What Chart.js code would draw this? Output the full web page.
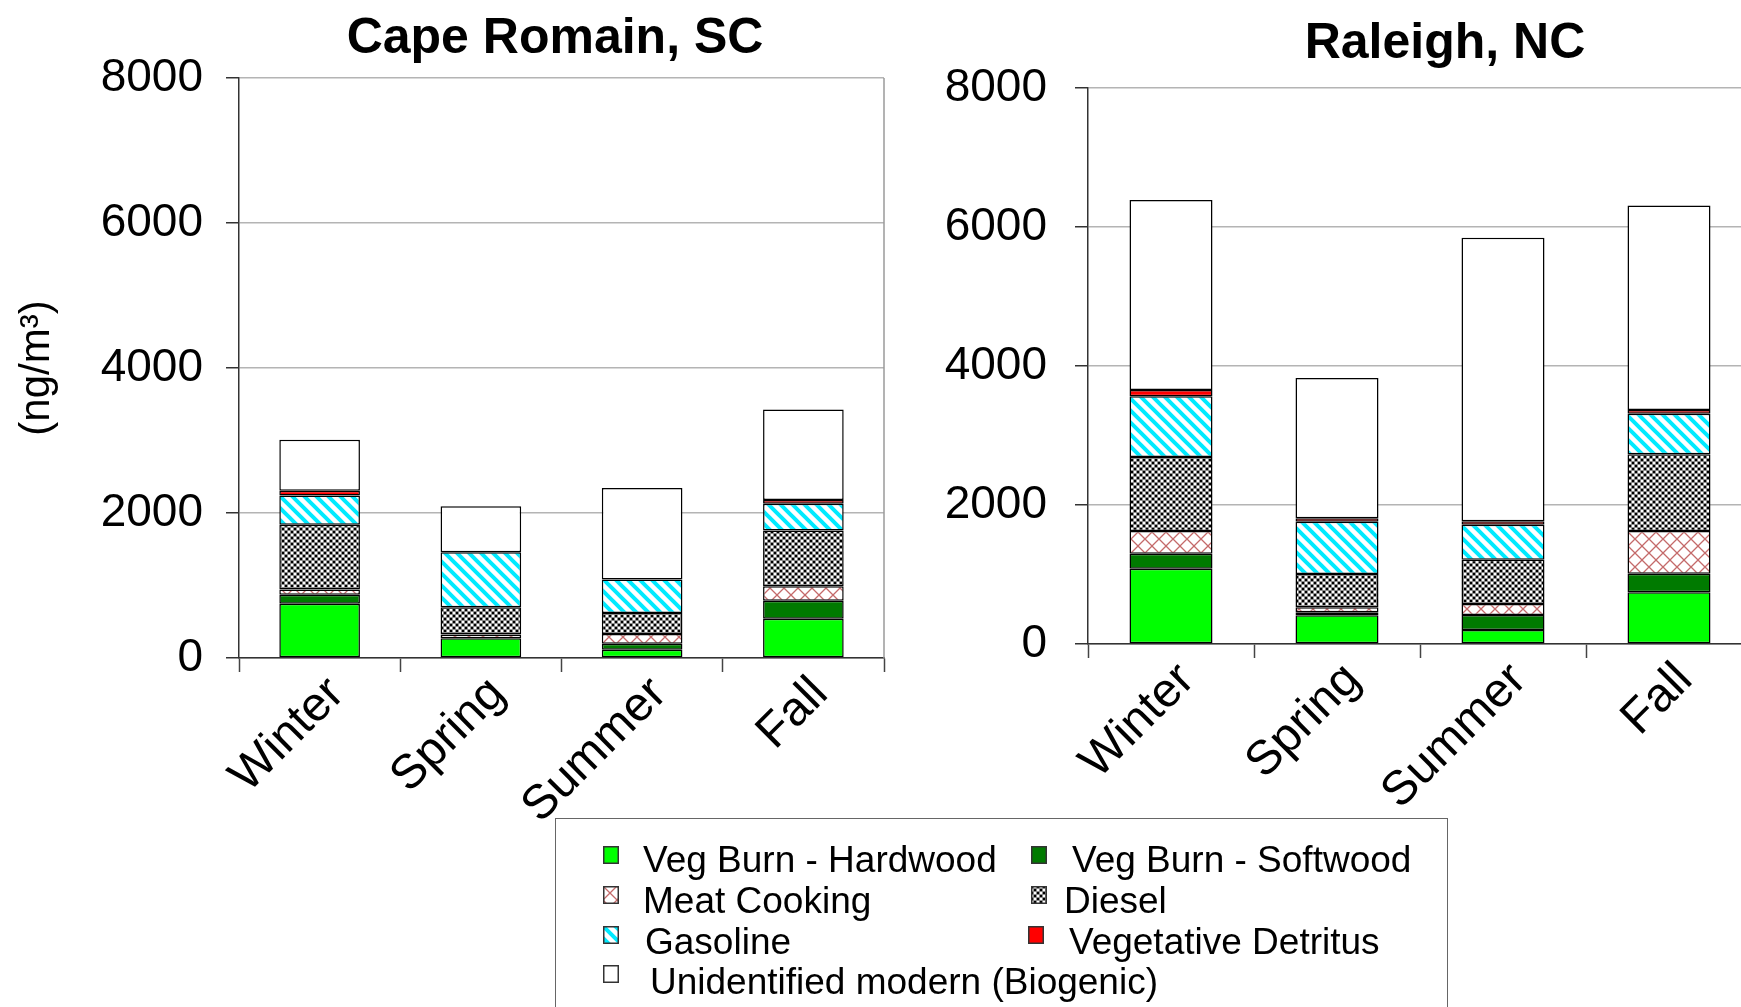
<!DOCTYPE html>
<html>
<head>
<meta charset="utf-8">
<script src="https://cdn.jsdelivr.net/npm/chart.js@4.4.0/dist/chart.umd.min.js"></script>
<style>
  html, body { margin: 0; padding: 0; background: #fff; }
  body { position: relative; width: 1741px; height: 1007px; overflow: hidden; font-family: "Liberation Sans", Arial, sans-serif; color: #000; }
  canvas.chart { position: absolute; top: 0; }
  .title { position: absolute; font-weight: bold; font-size: 50px; line-height: 50px; white-space: nowrap; transform: translateX(-50%); }
  #legend { position: absolute; left: 555px; top: 818px; width: 893px; height: 230px; border: 1.5px solid #666; box-sizing: border-box; }
  .item { position: absolute; font-size: 37px; line-height: 38px; white-space: nowrap; }
  .sw { position: absolute; }
</style>
</head>
<body>
<canvas id="cape" class="chart" width="900" height="900" style="left:0px"></canvas>
<canvas id="raleigh" class="chart" width="860" height="900" style="left:900px"></canvas>
<div class="title" style="left:555px; top:11px">Cape Romain, SC</div>
<div class="title" style="left:1445px; top:16px">Raleigh, NC</div>
<div id="legend"></div>
<script>
var seasons = ['Winter', 'Spring', 'Summer', 'Fall'];
var yTickValues = [0, 2000, 4000, 6000, 8000];
var seriesNames = ['Veg Burn - Hardwood', 'Veg Burn - Softwood', 'Meat Cooking', 'Diesel',
  'Gasoline', 'Vegetative Detritus', 'Unidentified modern (Biogenic)'];

// Cape Romain, SC (ng/m3)
var capeHardwood = [748, 271, 115, 541];
var capeSoftwood = [124, 0, 82, 248];
var capeMeat = [73, 54, 133, 202];
var capeDiesel = [894, 376, 289, 766];
var capeGasoline = [404, 756, 463, 371];
var capeDetritus = [64, 0, 0, 51];
var capeUnidentified = [702, 635, 1262, 1247];

// Raleigh, NC (ng/m3)
var raleighHardwood = [1082, 412, 201, 746];
var raleighSoftwood = [217, 44, 216, 264];
var raleighMeat = [327, 72, 159, 616];
var raleighDiesel = [1063, 479, 637, 1106];
var raleighGasoline = [875, 753, 504, 582];
var raleighDetritus = [92, 49, 48, 53];
var raleighUnidentified = [2732, 2020, 4079, 2944];

Chart.defaults.font.family = "'Liberation Sans', Arial, sans-serif";
Chart.defaults.color = '#000';

function makeTile(kind) {
  var c = document.createElement('canvas');
  var g = c.getContext('2d');
  if (kind === 'meat') {
    c.width = 14; c.height = 14;
    g.fillStyle = '#fff'; g.fillRect(0, 0, 14, 14);
    g.strokeStyle = '#c46a6a'; g.lineWidth = 1.3;
    g.beginPath();
    g.moveTo(0, 0); g.lineTo(14, 14);
    g.moveTo(14, 0); g.lineTo(0, 14);
    g.stroke();
  } else if (kind === 'diesel') {
    c.width = 6; c.height = 6;
    g.fillStyle = '#8c8c8c'; g.fillRect(0, 0, 6, 6);
    g.fillStyle = '#000'; g.fillRect(0, 0, 2, 2); g.fillRect(3, 3, 2, 2);
    g.fillStyle = '#fff'; g.fillRect(3, 0, 2, 2); g.fillRect(0, 3, 2, 2);
  } else if (kind === 'gasoline') {
    c.width = 12; c.height = 12;
    g.fillStyle = '#fff'; g.fillRect(0, 0, 12, 12);
    g.strokeStyle = '#00eaff'; g.lineWidth = 4;
    g.beginPath();
    [-12, 0, 12].forEach(function(k) {
      g.moveTo(-2, -2 + k); g.lineTo(14, 14 + k);
    });
    g.stroke();
  }
  return c;
}

function fillsFor(ctx) {
  return [
    '#00ff00',
    '#007a00',
    ctx.createPattern(makeTile('meat'), 'repeat'),
    ctx.createPattern(makeTile('diesel'), 'repeat'),
    ctx.createPattern(makeTile('gasoline'), 'repeat'),
    '#ff0000',
    '#ffffff'
  ];
}

function buildDatasets(ctx, values) {
  var fills = fillsFor(ctx);
  return values.map(function(v, i) {
    return {
      label: seriesNames[i],
      data: v,
      backgroundColor: fills[i],
      borderColor: '#000',
      borderWidth: 1.5,
      borderSkipped: false,
      barPercentage: 0.5,
      categoryPercentage: 1
    };
  });
}

var frame = {
  id: 'frame',
  afterDraw: function(chart) {
    var a = chart.chartArea, c = chart.ctx;
    c.save();
    c.strokeStyle = '#9a9a9a';
    c.lineWidth = 1.5;
    c.beginPath();
    c.moveTo(a.right, a.top);
    c.lineTo(a.right, a.bottom);
    c.stroke();
    c.restore();
  }
};

function makeChart(id, values, cfg) {
  var ctx = document.getElementById(id).getContext('2d');
  return new Chart(ctx, {
    type: 'bar',
    data: { labels: seasons, datasets: buildDatasets(ctx, values) },
    options: {
      responsive: false,
      animation: false,
      layout: { autoPadding: false, padding: { top: cfg.top, right: cfg.right, left: 0, bottom: 0 } },
      plugins: { legend: { display: false }, tooltip: { enabled: false }, title: { display: false } },
      scales: {
        x: {
          stacked: true,
          grid: { offset: true, drawOnChartArea: false, drawTicks: true, tickLength: 14, tickColor: '#444', tickWidth: 1.5 },
          border: { color: '#333', width: 1.5 },
          ticks: { font: { size: 48 }, minRotation: 45, maxRotation: 45, padding: cfg.xPad, labelOffset: cfg.xShift, autoSkip: false },
          afterFit: function(s) { s.height = cfg.xHeight; s.paddingLeft = 0; s.paddingRight = 0; }
        },
        y: {
          stacked: true,
          min: 0,
          max: 8000,
          afterBuildTicks: function(s) { s.ticks = yTickValues.map(function(v) { return { value: v }; }); },
          grid: { color: '#b4b4b4', lineWidth: 1.5, tickColor: '#333', tickLength: 13, tickWidth: 1.5 },
          border: { color: '#333', width: 1.5 },
          ticks: { font: { size: 46 }, padding: cfg.tickPad, callback: function(v) { return String(v); } },
          title: cfg.yTitle
            ? { display: true, text: cfg.yTitle, font: { size: 42 }, padding: { top: 12, bottom: 0 } }
            : { display: false },
          afterFit: function(s) { s.width = cfg.yWidth; s.paddingTop = 0; s.paddingBottom = 0; }
        }
      }
    },
    plugins: [frame]
  });
}

makeChart('cape',
  [capeHardwood, capeSoftwood, capeMeat, capeDiesel, capeGasoline, capeDetritus, capeUnidentified],
  { top: 78, right: 16, yWidth: 239, xHeight: 242, tickPad: 23, xPad: -6, xShift: 17, yTitle: '(ng/m\u00b3)' });

makeChart('raleigh',
  [raleighHardwood, raleighSoftwood, raleighMeat, raleighDiesel, raleighGasoline, raleighDetritus, raleighUnidentified],
  { top: 88, right: 8, yWidth: 188, xHeight: 256, tickPad: 28, xPad: -6, xShift: 16, yTitle: null });

// legend, laid out in two columns like the original
var legendSpots = [
  { sx: 603, sy: 846, tx: 643, ty: 841 },
  { sx: 1031, sy: 846, tx: 1072, ty: 841 },
  { sx: 603, sy: 886, tx: 643, ty: 882 },
  { sx: 1031, sy: 886, tx: 1064, ty: 882 },
  { sx: 603, sy: 926, tx: 645, ty: 923 },
  { sx: 1028, sy: 926, tx: 1069, ty: 923 },
  { sx: 603, sy: 965, tx: 650, ty: 963 }
];

seriesNames.forEach(function(name, i) {
  var spot = legendSpots[i];
  var sw = document.createElement('canvas');
  sw.className = 'sw';
  sw.width = 16; sw.height = 18;
  sw.style.left = spot.sx + 'px';
  sw.style.top = spot.sy + 'px';
  var g = sw.getContext('2d');
  var fills = fillsFor(g);
  g.fillStyle = fills[i];
  g.fillRect(0, 0, 16, 18);
  g.strokeStyle = '#333';
  g.lineWidth = 1.5;
  g.strokeRect(0.75, 0.75, 14.5, 16.5);
  document.body.appendChild(sw);

  var t = document.createElement('div');
  t.className = 'item';
  t.textContent = name;
  t.style.left = spot.tx + 'px';
  t.style.top = spot.ty + 'px';
  document.body.appendChild(t);
});
</script>
</body>
</html>
